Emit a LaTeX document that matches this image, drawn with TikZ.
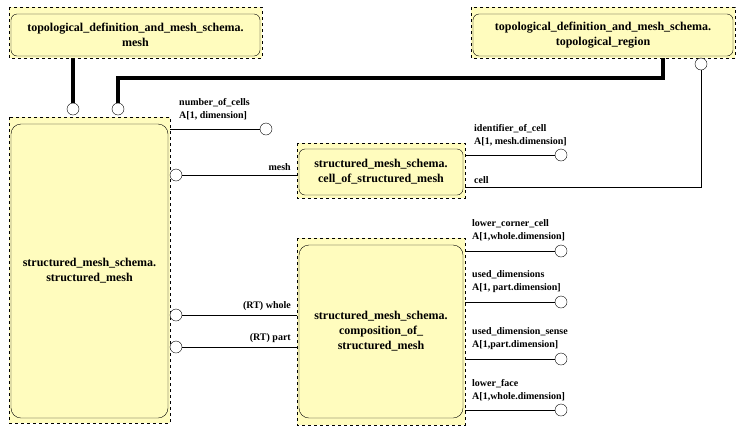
\documentclass[tikz,border=0pt]{standalone}
\usepackage{fontspec}
\setmainfont{Liberation Serif}
\definecolor{ent}{RGB}{255,252,190}
\begin{document}
\begin{tikzpicture}[x=1pt,y=-1pt,
  outer/.style={draw,dashed,fill=ent},
  inner/.style={draw,rounded corners=6pt,fill=ent},
  ttl/.style={font=\bfseries\fontsize{12}{15}\selectfont,align=center},
  lbl/.style={font=\bfseries\fontsize{10}{13}\selectfont,align=left,anchor=south west,inner sep=0pt},
  circ/.style={draw,fill=white,circle,minimum size=12pt,inner sep=0pt},
  thick line/.style={line width=4pt}]
\useasboundingbox (0,0) rectangle (743,437);
% boxes
\draw[outer] (9,7) rectangle (262,58);
\draw[inner] (11,14) rectangle (260,56);
\node[ttl] (mesh) at (135.5,35) {topological\_definition\_and\_mesh\_schema.\\mesh};
\draw[outer] (471,7) rectangle (735,58);
\draw[inner] (473,14) rectangle (733,56);
\node[ttl] (topo) at (603,35) {topological\_definition\_and\_mesh\_schema.\\topological\_region};
\draw[outer] (9,117) rectangle (170,423);
\draw[inner,rounded corners=10pt] (11,124) rectangle (168,418);
\node[ttl] (sm) at (89.5,271) {structured\_mesh\_schema.\\structured\_mesh};
\draw[outer] (297,143) rectangle (465,198);
\draw[inner] (299,149) rectangle (463,195);
\node[ttl] (cell) at (381,172) {structured\_mesh\_schema.\\cell\_of\_structured\_mesh};
\draw[outer] (297,238) rectangle (465,425);
\draw[inner,rounded corners=10pt] (299,245) rectangle (463,418);
\node[ttl] (comp) at (381,331) {structured\_mesh\_schema.\\composition\_of\_\\structured\_mesh};
% supertype links
\node[circ] (c1) at (73,109) {};
\node[circ] (c2) at (118,109) {};
\draw[thick line] (73,58) -- (c1.north);
\draw[thick line] (663,58) -- (663,78) -- (118,78) -- (c2.north);
% topological region attribute
\node[circ] (c3) at (701,64) {};
\draw (c3.south) -- (701,187) -- (465,187);
\node[lbl] at (474,184) {cell};
% structured_mesh attributes
\node[circ] (a1) at (266,129) {};
\draw (170,129) -- (a1.west);
\node[lbl] at (179,120) {number\_of\_cells\\A[1, dimension]};
\node[circ] (m1) at (176,175) {};
\draw (m1.east) -- (297,175);
\node[lbl,anchor=south east] at (291,171) {mesh};
\node[circ] (w1) at (176,315) {};
\draw (w1.east) -- (297,315);
\node[lbl,anchor=south east] at (291,311) {(RT) whole};
\node[circ] (p1) at (176,347) {};
\draw (p1.east) -- (297,347);
\node[lbl,anchor=south east] at (291,343) {(RT) part};
% cell attributes
\node[circ] (i1) at (561,155) {};
\draw (465,155) -- (i1.west);
\node[lbl] at (474,146) {identifier\_of\_cell\\A[1, mesh.dimension]};
% composition attributes
\node[circ] (k1) at (561,251) {};
\draw (465,251) -- (k1.west);
\node[lbl] at (472,241) {lower\_corner\_cell\\A[1,whole.dimension]};
\node[circ] (k2) at (561,302) {};
\draw (465,302) -- (k2.west);
\node[lbl] at (472,293) {used\_dimensions\\A[1, part.dimension]};
\node[circ] (k3) at (561,359) {};
\draw (465,359) -- (k3.west);
\node[lbl] at (472,350) {used\_dimension\_sense\\A[1,part.dimension]};
\node[circ] (k4) at (561,410) {};
\draw (465,410) -- (k4.west);
\node[lbl] at (472,401) {lower\_face\\A[1,whole.dimension]};
\end{tikzpicture}
\end{document}
